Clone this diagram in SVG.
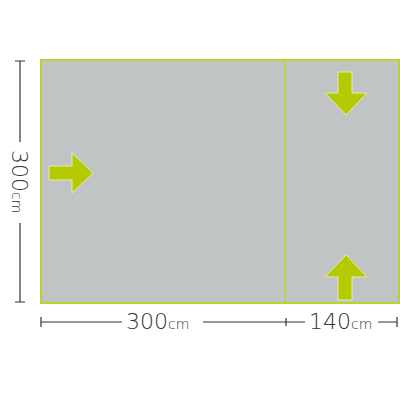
<svg xmlns="http://www.w3.org/2000/svg" width="400" height="400" viewBox="0 0 400 400">
<style>
.room{fill:#c1c4c4;stroke:#b9d42e;stroke-width:2}
.div{stroke:#b9d42e;stroke-width:1.5;fill:none}
.arrow{fill:#b3cb00;stroke:#e4edb0;stroke-width:1;stroke-linejoin:round}
.dim{stroke:#333;stroke-width:1.2;fill:none}
.lbl{font-family:"DejaVu Sans",sans-serif;font-weight:200;fill:#333;font-size:22px}
.cm{font-size:14px}
</style>
<rect width="400" height="400" fill="#fff"/>
<g id="room">
<rect class="room" x="41" y="60" width="358" height="243"/>
<line class="div" x1="285" y1="60" x2="285" y2="303"/>
</g>
<g id="arrow-left">
<path class="arrow" d="M49,166 H72 V153 L93,173 L72,193 V180 H49 Z"/>
</g>
<g id="arrow-down">
<path class="arrow" d="M338,72 H352 V93 H367 L346,115 L325,93 H338 Z"/>
</g>
<g id="arrow-up">
<path class="arrow" d="M338,300 H352 V277 H367 L346,255 L325,277 H338 Z"/>
</g>
<g id="connectors">
<path class="dim" d="M15,61 H25 M20,61 V142 M20,223 V302 M15,302 H25"/>
<path class="dim" d="M41,317 V327 M41,322 H122 M203,322 H305 M286,318 V326 M378,322 H397 M397,317 V327"/>
</g>
<g id="labels">
<text class="lbl" transform="translate(12,150) rotate(90)" x="0" y="0">300<tspan class="cm">cm</tspan></text>
<text class="lbl" x="126" y="329">300<tspan class="cm">cm</tspan></text>
<text class="lbl" x="309" y="329">140<tspan class="cm">cm</tspan></text>
</g>
</svg>
